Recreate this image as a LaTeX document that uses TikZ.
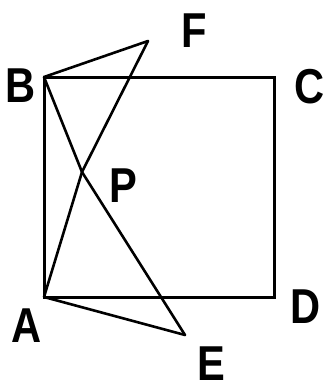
\documentclass[tikz,border=0pt]{standalone}
\usepackage{fontspec}
\setmainfont{Liberation Sans}
\newcommand{\narrowlab}[1]{\scalebox{0.85}[1]{#1}}
\begin{document}
\begin{tikzpicture}[x=1pt,y=-1pt,
  edge/.style={line width=3pt},
  seg/.style={line width=2.6pt, line cap=round},
  lab/.style={font=\fontsize{49}{49}\selectfont\bfseries, inner sep=0pt, text depth=0pt, anchor=base}]
\useasboundingbox (0,0) rectangle (325,383);
\coordinate (A) at (44,297);
\coordinate (B) at (44,77);
\coordinate (C) at (274,77);
\coordinate (D) at (274,297);
\coordinate (E) at (185,335);
\coordinate (F) at (148,41);
\coordinate (P) at (82,172);
\draw[edge] (A) -- (B) -- (C) -- (D) -- cycle;
\draw[seg] (B) -- (F);
\draw[seg] (F) -- (P);
\draw[seg] (P) -- (A);
\draw[seg] (A) -- (E);
\draw[seg] (E) -- (P);
\draw[seg] (P) -- (B);
\node[lab] (lB) at (20.5,102) {\narrowlab{B}};
\node[lab] (lC) at (310,103) {\narrowlab{C}};
\node[lab] (lF) at (194,47) {\narrowlab{F}};
\node[lab] (lP) at (123,202) {\narrowlab{P}};
\node[lab] (lD) at (306,323) {\narrowlab{D}};
\node[lab] (lA) at (26.5,342) {\narrowlab{A}};
\node[lab] (lE) at (211,380) {\narrowlab{E}};
\end{tikzpicture}
\end{document}
